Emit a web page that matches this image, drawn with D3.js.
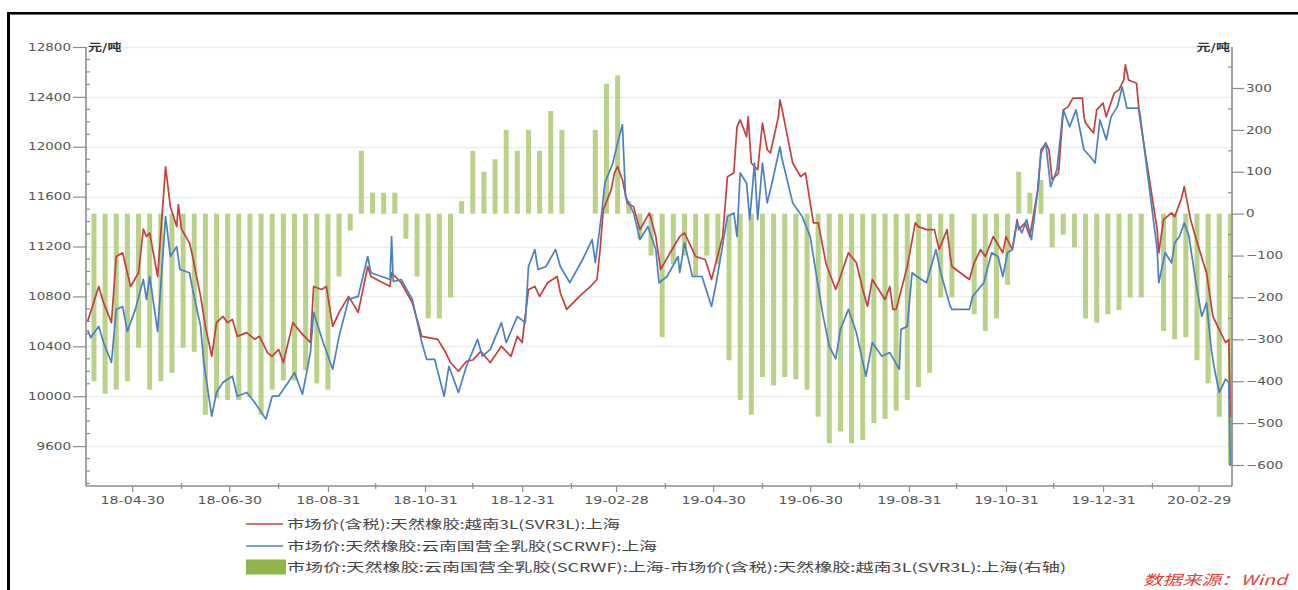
<!DOCTYPE html>
<html><head><meta charset="utf-8">
<script src="https://cdn.jsdelivr.net/npm/d3@7"></script>
<style>html,body{margin:0;padding:0;background:#fff;} svg{display:block;}</style>
</head><body>
<svg id="chart" width="1298" height="590"></svg>
<script>
// ---------------- DATA ----------------
const redSeries = [
["2018-04-02",10600],["2018-04-04",10680],["2018-04-09",10880],["2018-04-12",10750],["2018-04-17",10590],["2018-04-20",11120],["2018-04-24",11150],["2018-04-29",10880],
["2018-05-04",10990],["2018-05-07",11340],["2018-05-09",11280],["2018-05-11",11310],["2018-05-16",10960],["2018-05-21",11840],["2018-05-24",11520],["2018-05-28",11360],["2018-05-29",11536],["2018-05-31",11340],
["2018-06-05",11230],["2018-06-07",11120],["2018-06-12",10800],["2018-06-15",10560],["2018-06-19",10320],["2018-06-22",10590],["2018-06-26",10640],["2018-06-29",10590],
["2018-07-02",10616],["2018-07-05",10480],["2018-07-11",10510],["2018-07-16",10456],["2018-07-19",10480],["2018-07-24",10350],["2018-07-27",10320],["2018-07-31",10376],
["2018-08-03",10270],["2018-08-09",10590],["2018-08-14",10510],["2018-08-20",10430],["2018-08-22",10880],["2018-08-27",10856],["2018-08-30",10880],
["2018-09-03",10560],["2018-09-07",10672],["2018-09-13",10800],["2018-09-19",10672],["2018-09-25",11040],["2018-09-27",10960],
["2018-10-03",10920],["2018-10-09",10880],["2018-10-10",10990],["2018-10-16",10910],["2018-10-23",10750],["2018-10-29",10480],
["2018-11-08",10456],["2018-11-13",10350],["2018-11-16",10270],["2018-11-21",10200],["2018-11-26",10280],["2018-11-30",10290],
["2018-12-05",10360],["2018-12-11",10270],["2018-12-18",10400],["2018-12-24",10320],["2018-12-28",10480],["2018-12-31",10430],
["2019-01-04",10856],["2019-01-08",10880],["2019-01-11",10800],["2019-01-16",10910],["2019-01-22",10960],["2019-01-24",10830],["2019-01-28",10696],
["2019-02-05",10800],["2019-02-12",10880],["2019-02-16",10936],["2019-02-18",11176],["2019-02-20",11496],["2019-02-25",11656],["2019-02-27",11790],
["2019-03-01",11840],["2019-03-04",11736],["2019-03-07",11550],["2019-03-11",11520],["2019-03-15",11336],["2019-03-21",11470],["2019-03-25",11280],["2019-03-28",11016],
["2019-04-03",11150],["2019-04-09",11280],["2019-04-12",11310],["2019-04-15",11230],["2019-04-19",11120],["2019-04-25",11096],["2019-04-29",10936],
["2019-05-06",11280],["2019-05-09",11760],["2019-05-13",11790],["2019-05-15",12160],["2019-05-17",12216],["2019-05-21",12080],["2019-05-22",12240],["2019-05-24",11870],["2019-05-28",11816],["2019-05-31",12190],
["2019-06-03",11976],["2019-06-05",11950],["2019-06-10",12240],["2019-06-11",12376],["2019-06-12",12320],["2019-06-19",11870],["2019-06-24",11760],["2019-06-27",11790],["2019-06-30",11550],
["2019-07-02",11390],["2019-07-05",11390],["2019-07-10",11060],["2019-07-16",10856],["2019-07-19",10960],["2019-07-24",11150],["2019-07-29",11070],
["2019-08-02",10856],["2019-08-05",10720],["2019-08-08",10936],["2019-08-12",10856],["2019-08-16",10776],["2019-08-19",10880],["2019-08-21",10696],["2019-08-23",10696],["2019-08-30",11040],
["2019-09-04",11390],["2019-09-06",11360],["2019-09-11",11336],["2019-09-16",11336],["2019-09-19",11176],["2019-09-24",11336],["2019-09-26",11120],["2019-09-27",11040],
["2019-10-08",10936],["2019-10-11",11070],["2019-10-15",11176],["2019-10-18",11120],["2019-10-23",11280],["2019-10-29",11150],["2019-10-31",11280],
["2019-11-04",11176],["2019-11-07",11416],["2019-11-08",11336],["2019-11-12",11390],["2019-11-15",11280],["2019-11-20",11656],["2019-11-22",11950],["2019-11-25",12030],["2019-11-27",11976],["2019-11-29",11736],
["2019-12-03",11790],["2019-12-06",12296],["2019-12-09",12320],["2019-12-12",12390],["2019-12-18",12390],["2019-12-19",12240],["2019-12-20",12190],["2019-12-25",12110],["2019-12-27",12296],["2019-12-31",12350],
["2020-01-02",12240],["2020-01-07",12430],["2020-01-10",12456],["2020-01-13",12536],["2020-01-14",12656],["2020-01-16",12536],["2020-01-21",12510],["2020-01-23",12240],
["2020-02-03",11336],["2020-02-04",11150],["2020-02-07",11416],["2020-02-12",11470],["2020-02-14",11440],["2020-02-18",11576],["2020-02-20",11680],["2020-02-24",11416],["2020-02-27",11280],
["2020-03-03",11070],["2020-03-05",10990],["2020-03-09",10640],["2020-03-12",10560],["2020-03-17",10430],["2020-03-19",10456],["2020-03-20",9830]
];

const blueSeries = [
["2018-04-02",10530],["2018-04-04",10470],["2018-04-09",10560],["2018-04-12",10430],["2018-04-17",10270],["2018-04-20",10696],["2018-04-24",10720],["2018-04-27",10520],
["2018-05-02",10696],["2018-05-07",10936],["2018-05-09",10776],["2018-05-11",10960],["2018-05-16",10520],["2018-05-21",11440],["2018-05-24",11120],["2018-05-28",11200],["2018-05-30",11016],
["2018-06-05",10990],["2018-06-07",10856],["2018-06-12",10560],["2018-06-14",10270],["2018-06-19",9840],["2018-06-22",10030],["2018-06-26",10110],["2018-06-29",10136],
["2018-07-02",10160],["2018-07-05",10000],["2018-07-11",10030],["2018-07-16",9950],["2018-07-23",9816],["2018-07-27",10000],["2018-07-31",10000],
["2018-08-06",10110],["2018-08-10",10190],["2018-08-15",10016],["2018-08-20",10350],["2018-08-22",10672],["2018-08-28",10430],
["2018-09-03",10216],["2018-09-07",10480],["2018-09-13",10776],["2018-09-19",10800],["2018-09-25",11120],["2018-09-27",10990],
["2018-10-09",10936],["2018-10-10",11280],["2018-10-11",10920],["2018-10-16",10936],["2018-10-23",10776],["2018-10-29",10430],
["2018-11-01",10296],["2018-11-06",10296],["2018-11-12",10000],["2018-11-15",10240],["2018-11-21",10030],["2018-11-26",10240],
["2018-12-03",10456],["2018-12-06",10320],["2018-12-11",10376],["2018-12-18",10590],["2018-12-21",10430],["2018-12-28",10640],
["2019-01-02",10590],["2019-01-04",11040],["2019-01-08",11176],["2019-01-10",11016],["2019-01-15",11040],["2019-01-21",11176],["2019-01-24",11040],["2019-01-30",10910],
["2019-02-07",11096],["2019-02-13",11256],["2019-02-15",11070],["2019-02-19",11470],["2019-02-21",11710],["2019-02-26",11870],
["2019-03-01",12030],["2019-03-04",12176],["2019-03-06",11600],["2019-03-11",11470],["2019-03-15",11256],["2019-03-20",11360],["2019-03-25",11176],["2019-03-27",10910],
["2019-04-01",10960],["2019-04-08",11120],["2019-04-09",10990],["2019-04-12",11230],["2019-04-17",10960],["2019-04-23",10960],["2019-04-29",10720],
["2019-05-02",10910],["2019-05-09",11440],["2019-05-13",11470],["2019-05-15",11280],["2019-05-17",11790],["2019-05-21",11710],["2019-05-23",11416],["2019-05-26",11870],["2019-05-28",11416],["2019-05-31",11870],
["2019-06-03",11550],["2019-06-06",11710],["2019-06-11",12000],["2019-06-12",11920],["2019-06-19",11550],["2019-06-25",11440],["2019-06-30",11280],
["2019-07-04",10960],["2019-07-08",10650],["2019-07-12",10400],["2019-07-16",10300],["2019-07-19",10536],["2019-07-24",10696],["2019-07-29",10510],
["2019-08-04",10160],["2019-08-08",10430],["2019-08-14",10320],["2019-08-19",10350],["2019-08-25",10216],["2019-08-26",10536],["2019-08-30",10560],
["2019-09-02",10990],["2019-09-05",10960],["2019-09-11",10910],["2019-09-17",11176],["2019-09-20",10990],["2019-09-26",10720],["2019-09-27",10696],
["2019-10-08",10696],["2019-10-10",10800],["2019-10-17",10910],["2019-10-22",11150],["2019-10-26",11120],["2019-10-29",10960],
["2019-11-01",11150],["2019-11-04",11176],["2019-11-07",11390],["2019-11-10",11310],["2019-11-13",11416],["2019-11-16",11256],["2019-11-20",11656],["2019-11-22",11976],["2019-11-25",12030],["2019-11-28",11680],
["2019-12-02",11816],["2019-12-06",12296],["2019-12-10",12160],["2019-12-14",12296],["2019-12-19",11976],["2019-12-23",11920],["2019-12-26",11870],["2019-12-29",12216],
["2020-01-02",12056],["2020-01-05",12240],["2020-01-09",12320],["2020-01-12",12480],["2020-01-15",12310],["2020-01-22",12310],["2020-01-23",12280],
["2020-02-03",11176],["2020-02-04",10910],["2020-02-08",11150],["2020-02-12",11070],["2020-02-14",11230],["2020-02-17",11280],["2020-02-20",11390],["2020-02-23",11280],["2020-02-27",10936],
["2020-03-02",10640],["2020-03-05",10750],["2020-03-08",10376],["2020-03-10",10216],["2020-03-13",10030],["2020-03-17",10136],["2020-03-19",10110],["2020-03-20",9440]
];

// spread (right axis), weekly
const spreadSeries = [
["2018-04-06",-400],["2018-04-13",-430],["2018-04-20",-420],["2018-04-27",-400],["2018-05-04",-320],["2018-05-11",-420],["2018-05-18",-400],["2018-05-25",-380],
["2018-06-01",-320],["2018-06-08",-330],["2018-06-15",-480],["2018-06-22",-440],["2018-06-29",-445],["2018-07-06",-445],["2018-07-13",-438],["2018-07-20",-480],
["2018-07-27",-420],["2018-08-03",-398],["2018-08-10",-398],["2018-08-17",-374],["2018-08-24",-405],["2018-08-31",-420],["2018-09-07",-150],["2018-09-14",-40],
["2018-09-21",150],["2018-09-28",50],["2018-10-05",50],["2018-10-12",50],["2018-10-19",-60],["2018-10-26",-150],["2018-11-02",-250],["2018-11-09",-250],
["2018-11-16",-200],["2018-11-23",30],["2018-11-30",150],["2018-12-07",100],["2018-12-14",130],["2018-12-21",200],["2018-12-28",150],["2019-01-04",200],
["2019-01-11",150],["2019-01-18",245],["2019-01-25",200],["2019-02-01",0],["2019-02-08",0],["2019-02-15",200],["2019-02-22",310],["2019-03-01",330],
["2019-03-08",30],["2019-03-15",-60],["2019-03-22",-100],["2019-03-29",-295],["2019-04-05",-120],["2019-04-12",-100],["2019-04-19",-150],["2019-04-26",-100],
["2019-05-03",-120],["2019-05-10",-350],["2019-05-17",-445],["2019-05-24",-480],["2019-05-31",-390],["2019-06-07",-410],["2019-06-14",-390],["2019-06-21",-395],
["2019-06-28",-420],["2019-07-05",-485],["2019-07-12",-548],["2019-07-19",-520],["2019-07-26",-548],["2019-08-02",-540],["2019-08-09",-500],["2019-08-16",-490],
["2019-08-23",-470],["2019-08-30",-445],["2019-09-06",-414],["2019-09-13",-380],["2019-09-20",-200],["2019-09-27",-200],["2019-10-04",0],["2019-10-11",-240],
["2019-10-18",-280],["2019-10-25",-250],["2019-11-01",-170],["2019-11-08",100],["2019-11-15",50],["2019-11-22",80],["2019-11-29",-80],["2019-12-06",-50],
["2019-12-13",-80],["2019-12-20",-250],["2019-12-27",-260],["2020-01-03",-240],["2020-01-10",-230],["2020-01-17",-200],["2020-01-24",-200],["2020-01-31",0],
["2020-02-07",-280],["2020-02-14",-300],["2020-02-21",-295],["2020-02-28",-350],["2020-03-06",-405],["2020-03-13",-485],["2020-03-20",-600]
];

const xTickDates  = ["2018-04-30","2018-06-30","2018-08-31","2018-10-31","2018-12-31","2019-02-28","2019-04-30","2019-06-30","2019-08-31","2019-10-31","2019-12-31","2020-02-29"];
const xTickLabels = ["18-04-30","18-06-30","18-08-31","18-10-31","18-12-31","19-02-28","19-04-30","19-06-30","19-08-31","19-10-31","19-12-31","20-02-29"];
const xMinorDates = ["2018-05-31","2018-07-31","2018-09-30","2018-11-30","2019-01-31","2019-03-31","2019-05-31","2019-07-31","2019-09-30","2019-11-30","2020-01-31"];
const leftTicks  = [9600,10000,10400,10800,11200,11600,12000,12400,12800];
const rightTicks = [-600,-500,-400,-300,-200,-100,0,100,200,300];
const unitLabel = "元/吨";
const legendLabels = [
  "市场价(含税):天然橡胶:越南3L(SVR3L):上海",
  "市场价:天然橡胶:云南国营全乳胶(SCRWF):上海",
  "市场价:天然橡胶:云南国营全乳胶(SCRWF):上海-市场价(含税):天然橡胶:越南3L(SVR3L):上海(右轴)"
];
const sourceLabel = "数据来源：Wind";

// ---------------- DRAW ----------------
const parse = d3.timeParse("%Y-%m-%d");
const svg = d3.select("#chart");
const COLORS = {red:"#c4403c", blue:"#4a80c0", green:"#a3c163", axis:"#8c8c8c", text:"#555"};
const SX = 1.35; // horizontal stretch of text like the reference

const x = d3.scaleTime().domain([new Date(2018,3,1), new Date(2020,2,21)]).range([86,1232]);
const yL = d3.scaleLinear().domain([9280,12800]).range([486,47]);
const yR = d3.scaleLinear().domain([-600,300]).range([465,88]);
const PL = 86, PR = 1232, PT = 47, PB = 486;

function stretch(sel, factor){
  sel.each(function(){
    const w = this.getComputedTextLength();
    if (w > 0){ this.setAttribute("textLength", (w*factor).toFixed(1)); this.setAttribute("lengthAdjust","spacingAndGlyphs"); }
  });
}

// frame (top and left borders)
svg.append("rect").attr("x",7).attr("y",12).attr("width",3).attr("height",578).attr("fill","#000");
svg.append("rect").attr("x",7).attr("y",12).attr("width",1291).attr("height",2.6).attr("fill","#000");

// gridlines
svg.append("g").selectAll("line").data(leftTicks).join("line")
  .attr("x1",PL).attr("x2",PR).attr("y1",d=>Math.round(yL(d))+0.5).attr("y2",d=>Math.round(yL(d))+0.5)
  .attr("stroke","#ededed").attr("stroke-width",1.5);

svg.append("clipPath").attr("id","plot").append("rect").attr("x",PL).attr("y",PT-2).attr("width",PR-PL+1).attr("height",PB-PT+2);
const plot = svg.append("g").attr("clip-path","url(#plot)");

// bars
const bw = 5;
plot.append("g").selectAll("rect").data(spreadSeries.filter(d=>d[1]!==0)).join("rect")
  .attr("x",d=>x(parse(d[0]))-bw/2)
  .attr("width",bw)
  .attr("y",d=>Math.min(yR(0),yR(d[1])))
  .attr("height",d=>Math.abs(yR(d[1])-yR(0)))
  .attr("fill",COLORS.green).attr("opacity",0.75);

// lines
const line = d3.line().x(d=>x(parse(d[0]))).y(d=>yL(d[1]));
plot.append("path").datum(redSeries).attr("d",line).attr("fill","none").attr("stroke",COLORS.red).attr("stroke-width",1.7).attr("stroke-linejoin","round");
plot.append("path").datum(blueSeries).attr("d",line).attr("fill","none").attr("stroke",COLORS.blue).attr("stroke-width",1.7).attr("stroke-linejoin","round");

// left axis
const gL = svg.append("g").attr("transform",`translate(${PL},0)`)
  .call(d3.axisLeft(yL).tickValues(leftTicks).tickSize(13).tickPadding(2).tickFormat(d3.format("d")));
gL.select(".domain").remove();
gL.selectAll(".tick line").attr("stroke",COLORS.axis).attr("stroke-width",1.2);
gL.selectAll(".tick text").attr("fill",COLORS.text).style("font-family","DejaVu Sans").style("font-size","10px");
svg.append("line").attr("x1",PL).attr("x2",PL).attr("y1",PT).attr("y2",PB).attr("stroke",COLORS.axis).attr("stroke-width",1.6);
svg.append("g").selectAll("line").data(d3.range(9300,12800,100).filter(v=>v%400!==0)).join("line")
  .attr("x1",PL).attr("x2",PL+4).attr("y1",d=>yL(d)).attr("y2",d=>yL(d)).attr("stroke",COLORS.axis).attr("stroke-width",1.2);

// right axis
const gR = svg.append("g").attr("transform",`translate(${PR},0)`)
  .call(d3.axisRight(yR).tickValues(rightTicks).tickSize(12).tickPadding(2).tickFormat(d3.format("d")));
gR.select(".domain").remove();
gR.selectAll(".tick line").attr("stroke",COLORS.axis).attr("stroke-width",1.2);
gR.selectAll(".tick text").attr("fill",COLORS.text).style("font-family","DejaVu Sans").style("font-size","10px");
svg.append("line").attr("x1",PR).attr("x2",PR).attr("y1",PT).attr("y2",PB).attr("stroke",COLORS.axis).attr("stroke-width",1.6);
svg.append("g").selectAll("line").data(d3.range(-550,400,100)).join("line")
  .attr("x1",PR-4).attr("x2",PR).attr("y1",d=>yR(d)).attr("y2",d=>yR(d)).attr("stroke",COLORS.axis).attr("stroke-width",1.2);

// bottom axis
const gX = svg.append("g").attr("transform",`translate(0,${PB})`)
  .call(d3.axisBottom(x).tickValues(xTickDates.map(parse)).tickSize(6).tickPadding(5)
        .tickFormat((d,i)=>xTickLabels[i]));
gX.select(".domain").remove();
gX.selectAll(".tick line").attr("stroke",COLORS.axis).attr("stroke-width",1.2);
gX.selectAll(".tick text").attr("fill",COLORS.text).style("font-family","DejaVu Sans").style("font-size","10.5px");
svg.append("line").attr("x1",PL).attr("x2",PR).attr("y1",PB).attr("y2",PB).attr("stroke",COLORS.axis).attr("stroke-width",1.6);
svg.append("g").selectAll("line").data(xMinorDates.map(parse)).join("line")
  .attr("x1",d=>x(d)).attr("x2",d=>x(d)).attr("y1",PB-3).attr("y2",PB+3).attr("stroke",COLORS.axis).attr("stroke-width",1.2);

stretch(gL.selectAll(".tick text"), SX);
stretch(gR.selectAll(".tick text"), SX);
stretch(gX.selectAll(".tick text"), SX);

// unit labels
const uL = svg.append("text").attr("x",PL+2).attr("y",51).text(unitLabel)
  .attr("fill","#333").style("font-family","Noto Sans CJK SC").style("font-size","10px").style("font-weight","bold");
const uR = svg.append("text").attr("x",PR-2).attr("y",51).attr("text-anchor","end").text(unitLabel)
  .attr("fill","#333").style("font-family","Noto Sans CJK SC").style("font-size","10px").style("font-weight","bold");
stretch(uL, 1.4); stretch(uR, 1.4);

// legend
const lg = svg.append("g");
const rows = [524, 546, 567];
lg.append("line").attr("x1",246).attr("x2",283).attr("y1",rows[0]).attr("y2",rows[0]).attr("stroke",COLORS.red).attr("stroke-width",1.5);
lg.append("line").attr("x1",246).attr("x2",283).attr("y1",rows[1]).attr("y2",rows[1]).attr("stroke",COLORS.blue).attr("stroke-width",1.5);
lg.append("rect").attr("x",246).attr("y",rows[2]-7.5).attr("width",40).attr("height",15).attr("fill","#8fb548");
const legTargets = [333, 370, 779];
lg.selectAll("text").data(legendLabels).join("text")
  .attr("x",287).attr("y",(d,i)=>rows[i]+4.5).text(d=>d)
  .attr("fill","#444").style("font-family","Noto Sans CJK SC").style("font-size","12px")
  .attr("textLength",(d,i)=>legTargets[i]).attr("lengthAdjust","spacingAndGlyphs");

// source
svg.append("text").attr("x",1143).attr("y",585).text(sourceLabel)
  .attr("fill","#e8403a").style("font-family","Noto Sans CJK SC").style("font-size","14px").style("font-style","italic")
  .attr("textLength",144).attr("lengthAdjust","spacingAndGlyphs");
</script>
</body></html>
